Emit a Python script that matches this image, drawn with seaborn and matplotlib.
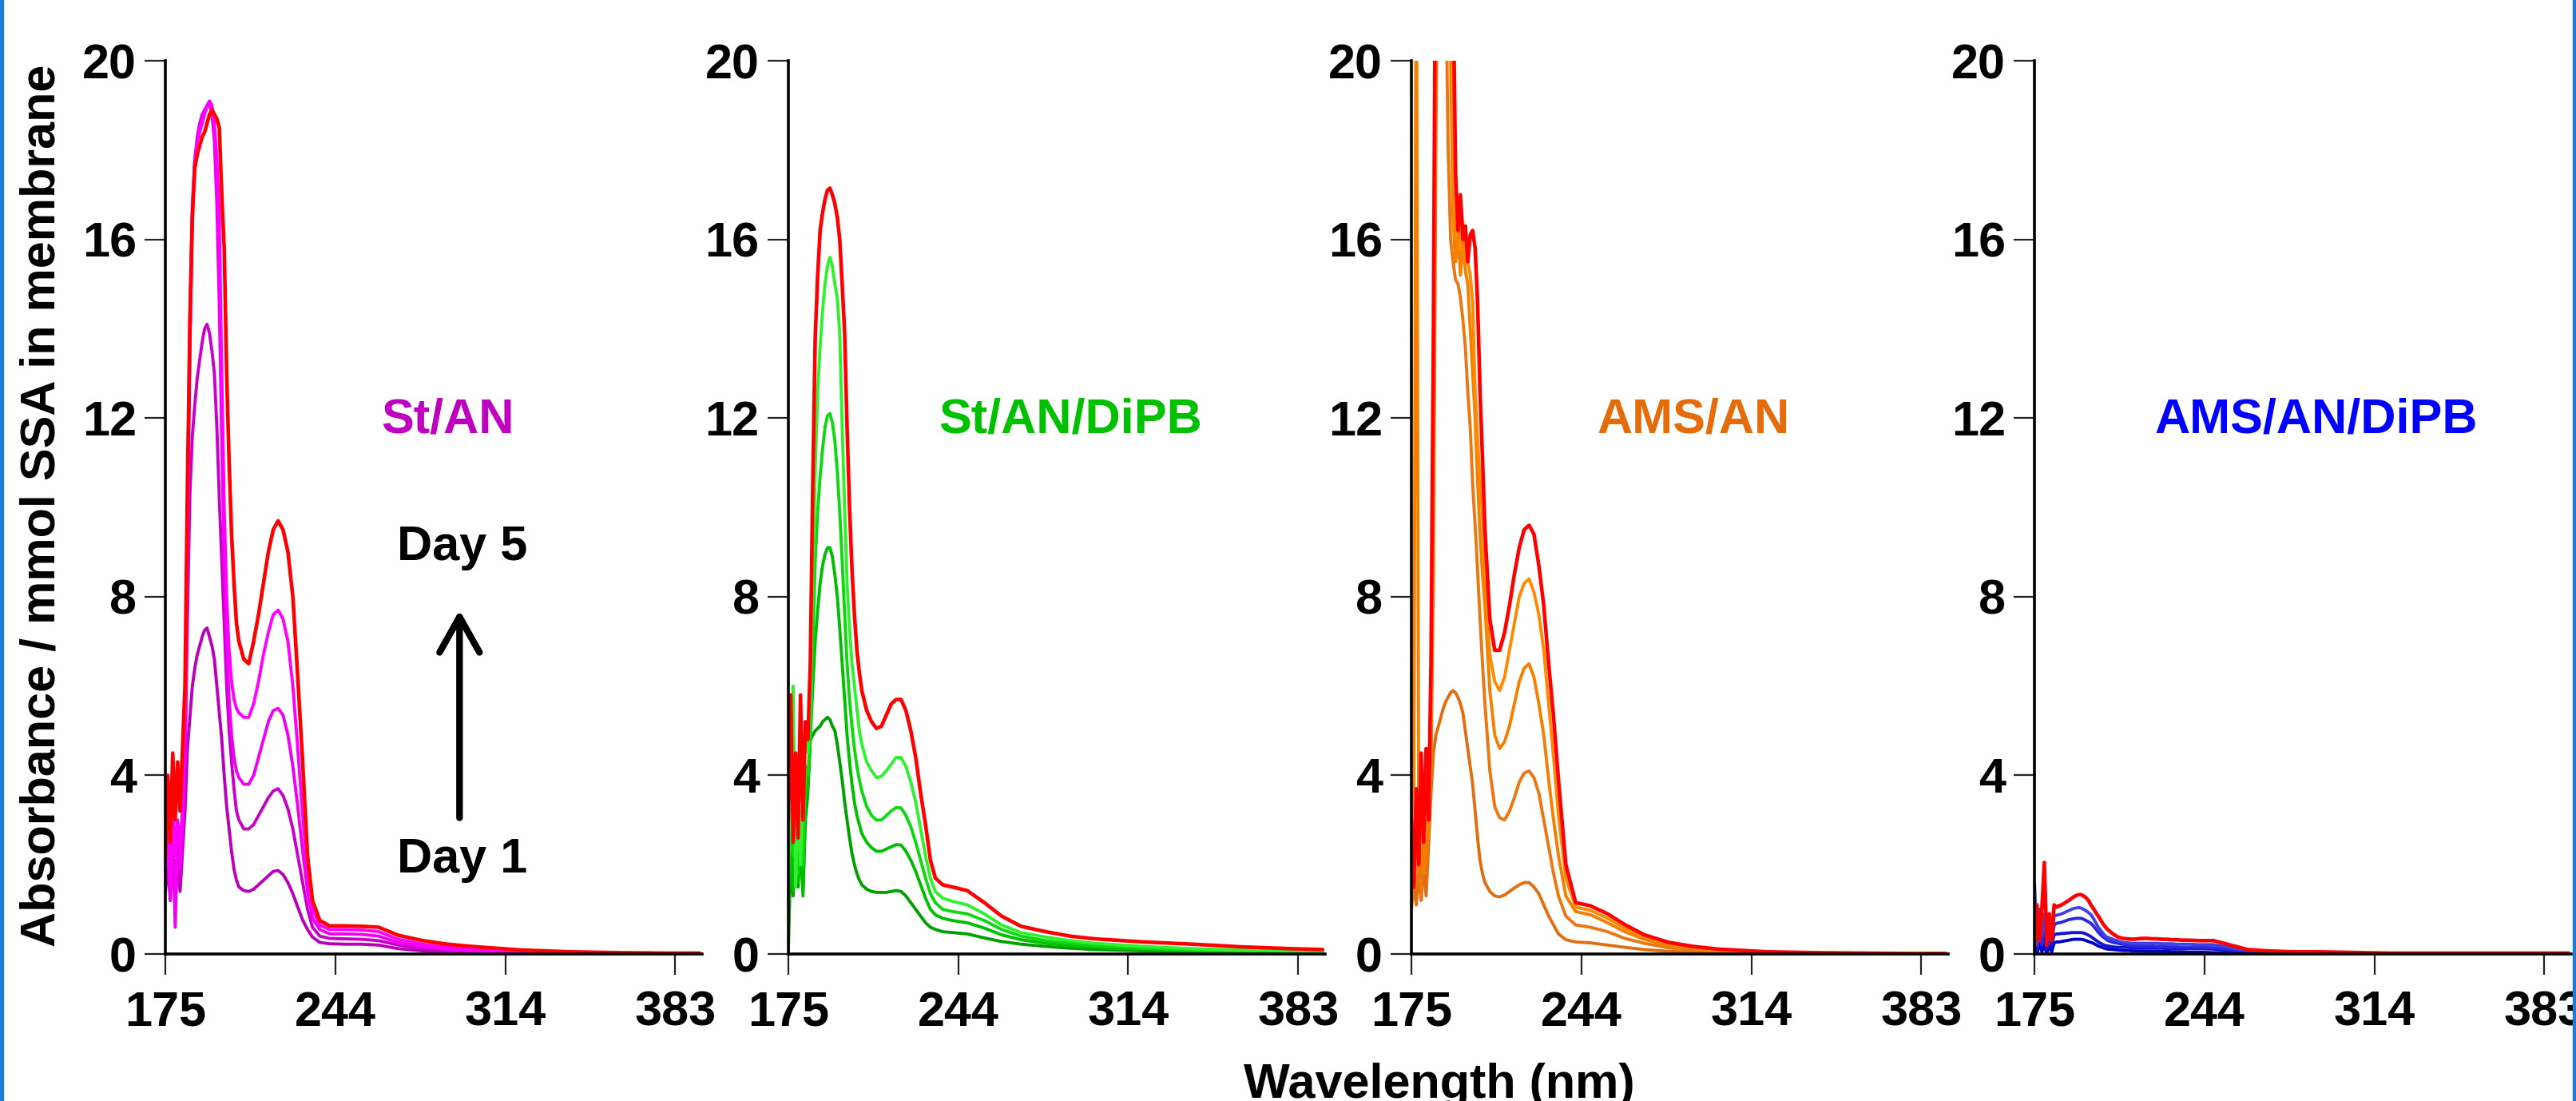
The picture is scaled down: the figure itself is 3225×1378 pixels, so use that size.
import numpy as np
import pandas as pd
import seaborn as sns
import matplotlib.pyplot as plt
from matplotlib.patches import Rectangle

# wavelength grid (nm) shared by all spectra
wl = [175, 176, 177, 178, 179, 180, 181, 182, 183, 184,
      185, 186, 187, 188, 189, 190, 191, 192, 193, 194,
      195, 196, 197, 198, 199, 200, 201, 202, 203, 204,
      205, 207, 209, 211, 213, 215, 217, 219, 221, 223,
      225, 227, 229, 231, 233, 235, 238, 242, 248, 255,
      262, 270, 280, 290, 300, 320, 340, 360, 380, 393]

# St/AN, day 1 .. day 5
st_an_d1 = [1.4, 2.0, 1.2, 2.2, 1.5, 1.9, 1.4, 2.3, 3.2, 4.6,
            5.3, 6.0, 6.4, 6.7, 6.9, 7.1, 7.25, 7.3, 7.1, 6.9,
            6.6, 6.0, 5.4, 4.8, 4.0, 3.3, 2.8, 2.3, 1.9, 1.65,
            1.5, 1.42, 1.4, 1.45, 1.55, 1.65, 1.75, 1.85, 1.87, 1.78,
            1.6, 1.35, 1.05, 0.76, 0.55, 0.38, 0.26, 0.23, 0.22, 0.22,
            0.2, 0.12, 0.07, 0.04, 0.03, 0.01, 0.01, 0.01, 0.01, 0.01]
st_an_d2 = [1.5, 2.2, 1.4, 2.4, 1.8, 2.2, 1.6, 2.6, 4.0, 7.5,
            10.3, 11.6, 12.3, 12.9, 13.3, 13.7, 14.0, 14.1, 13.9, 13.5,
            13.0, 11.8, 10.2, 8.8, 7.4, 6.0, 5.0, 4.3, 3.7, 3.2,
            3.0, 2.8, 2.8, 2.9, 3.1, 3.3, 3.5, 3.65, 3.7, 3.55,
            3.25, 2.8, 2.2, 1.6, 1.0, 0.6, 0.4, 0.35, 0.34, 0.33,
            0.3, 0.2, 0.12, 0.07, 0.05, 0.02, 0.01, 0.01, 0.01, 0.01]
st_an_d3 = [1.8, 2.6, 1.2, 2.8, 0.6, 2.5, 1.9, 2.8, 4.5, 9.0,
            13.5, 16.5, 17.8, 18.3, 18.6, 18.8, 18.9, 19.0, 19.0, 18.8,
            18.2, 16.8, 14.5, 11.5, 8.8, 6.9, 5.7, 4.9, 4.4, 4.1,
            3.95, 3.8, 3.8, 4.0, 4.4, 4.8, 5.2, 5.45, 5.5, 5.35,
            4.9, 4.2, 3.3, 2.3, 1.4, 0.8, 0.55, 0.45, 0.45, 0.44,
            0.4, 0.26, 0.17, 0.1, 0.07, 0.03, 0.02, 0.01, 0.01, 0.01]
st_an_d4 = [2.0, 3.0, 1.5, 3.5, 2.2, 3.0, 2.4, 3.3, 5.0, 10.0,
            14.5, 16.8, 17.8, 18.2, 18.4, 18.6, 18.8, 19.0, 19.1, 19.0,
            18.6, 17.8, 16.5, 13.0, 10.0, 8.0, 6.8, 6.1, 5.7, 5.5,
            5.4, 5.3, 5.3, 5.6, 6.1, 6.7, 7.2, 7.6, 7.7, 7.5,
            7.0, 6.0, 4.6, 3.1, 1.8, 1.0, 0.65, 0.55, 0.55, 0.54,
            0.5, 0.33, 0.22, 0.15, 0.1, 0.05, 0.03, 0.02, 0.01, 0.01]
st_an_d5 = [2.2, 4.0, 2.5, 4.5, 3.0, 4.3, 3.2, 4.6, 6.0, 10.5,
            14.0, 16.5, 17.6, 17.9, 18.1, 18.3, 18.4, 18.6, 18.8, 18.9,
            18.8, 18.7, 18.5, 17.0, 15.8, 13.0, 11.0, 9.4, 8.3, 7.4,
            7.0, 6.6, 6.5, 7.0, 7.6, 8.3, 9.0, 9.5, 9.7, 9.5,
            9.0, 8.0, 6.2, 4.3, 2.2, 1.2, 0.75, 0.63, 0.63, 0.62,
            0.6, 0.42, 0.3, 0.22, 0.17, 0.09, 0.05, 0.03, 0.02, 0.02]

# St/AN/DiPB
st_an_dipb_d1 = [0.0, 2.2, 1.3, 2.6, 1.5, 2.4, 1.4, 3.0, 3.6, 4.8,
                 4.9, 5.0, 5.05, 5.1, 5.2, 5.25, 5.3, 5.25, 5.1, 5.0,
                 4.7, 4.3, 3.9, 3.4, 3.0, 2.6, 2.25, 2.0, 1.8, 1.66,
                 1.55, 1.45, 1.4, 1.38, 1.38, 1.38, 1.4, 1.42, 1.4, 1.3,
                 1.15, 1.0, 0.85, 0.7, 0.6, 0.55, 0.5, 0.48, 0.45, 0.36,
                 0.28, 0.22, 0.17, 0.13, 0.1, 0.07, 0.05, 0.03, 0.02, 0.02]
st_an_dipb_d2 = [1.2, 2.5, 1.4, 3.0, 1.6, 2.8, 1.3, 3.4, 3.8, 4.8,
                 6.0, 7.0, 7.7, 8.3, 8.7, 8.95, 9.1, 9.1, 8.9, 8.5,
                 8.0, 7.3, 6.5, 5.7, 4.9, 4.3, 3.8, 3.4, 3.1, 2.9,
                 2.7, 2.5, 2.38, 2.3, 2.3, 2.35, 2.4, 2.45, 2.44, 2.3,
                 2.1, 1.85, 1.55, 1.25, 1.0, 0.88, 0.8, 0.75, 0.7, 0.58,
                 0.43, 0.32, 0.24, 0.19, 0.15, 0.1, 0.07, 0.05, 0.04, 0.04]
st_an_dipb_d3 = [1.5, 3.0, 2.2, 4.0, 1.8, 3.2, 2.0, 4.2, 4.0, 5.0,
                 7.0, 8.8, 9.9, 10.7, 11.3, 11.8, 12.05, 12.1, 11.9, 11.5,
                 10.8, 9.9, 8.8, 7.6, 6.5, 5.7, 5.1, 4.6, 4.2, 3.9,
                 3.65, 3.3, 3.1, 3.0, 3.0, 3.1, 3.2, 3.28, 3.27, 3.1,
                 2.85, 2.5, 2.1, 1.7, 1.35, 1.15, 1.0, 0.95, 0.9, 0.75,
                 0.55, 0.4, 0.3, 0.24, 0.19, 0.13, 0.09, 0.07, 0.05, 0.05]
st_an_dipb_d4 = [2.0, 4.0, 6.0, 1.5, 3.5, 2.0, 3.8, 5.2, 4.5, 5.6,
                 8.5, 10.8, 12.6, 13.6, 14.4, 15.0, 15.4, 15.6, 15.4, 15.0,
                 14.7, 13.9, 11.8, 10.0, 8.3, 7.3, 6.5, 6.0, 5.5, 5.0,
                 4.7, 4.3, 4.1, 3.95, 3.98, 4.1, 4.25, 4.4, 4.4, 4.2,
                 3.85, 3.4, 2.8, 2.2, 1.7, 1.4, 1.25, 1.18, 1.1, 0.9,
                 0.65, 0.48, 0.38, 0.3, 0.24, 0.17, 0.12, 0.09, 0.07, 0.06]
st_an_dipb_d5 = [3.0, 5.8, 2.5, 4.5, 2.6, 5.8, 3.0, 5.2, 4.8, 6.5,
                 10.5, 13.8, 15.2, 16.2, 16.6, 16.9, 17.1, 17.15, 17.0, 16.8,
                 16.5, 16.0, 15.0, 13.9, 11.8, 10.0, 8.6, 7.6, 6.8, 6.3,
                 5.9, 5.45, 5.2, 5.05, 5.1, 5.35, 5.6, 5.7, 5.7, 5.45,
                 5.0, 4.4, 3.6, 2.9, 2.1, 1.7, 1.55, 1.5, 1.42, 1.15,
                 0.85, 0.62, 0.5, 0.4, 0.34, 0.27, 0.22, 0.16, 0.12, 0.1]

# AMS/AN (values above 20 run off the top of the axis)
ams_an_d1 = [1.0, 1.6, 1.1, 1.8, 1.2, 2.0, 1.3, 2.4, 3.6, 4.5,
             4.9, 5.1, 5.3, 5.5, 5.65, 5.75, 5.85, 5.9, 5.85, 5.75,
             5.6, 5.4, 5.0, 4.6, 4.2, 3.8, 3.2, 2.6, 2.1, 1.8,
             1.6, 1.4, 1.3, 1.28, 1.32, 1.4, 1.48, 1.55, 1.6, 1.6,
             1.5, 1.35, 1.1, 0.85, 0.65, 0.45, 0.32, 0.27, 0.25, 0.2,
             0.15, 0.1, 0.06, 0.04, 0.03, 0.01, 0.01, 0.01, 0.01, 0.01]
ams_an_d2 = [1.2, 2.2, 1.5, 2.6, 1.3, 2.9, 1.8, 3.0, 4.2, 8.5,
             18.0, 25.0, 25.0, 25.0, 22.0, 18.0, 16.0, 15.5, 15.1, 15.0,
             14.7, 14.2, 13.6, 12.6, 11.8, 10.5, 9.6, 8.6, 7.5, 6.5,
             5.6, 4.1, 3.3, 3.05, 3.0, 3.2, 3.5, 3.85, 4.05, 4.1,
             3.95, 3.6, 3.0, 2.4, 1.8, 1.3, 0.85, 0.65, 0.6, 0.5,
             0.35, 0.24, 0.14, 0.09, 0.06, 0.02, 0.01, 0.01, 0.01, 0.01]
ams_an_d3 = [1.5, 2.8, 25.0, 2.2, 3.2, 1.8, 3.4, 2.6, 4.8, 10.0,
             22.0, 25.0, 25.0, 25.0, 25.0, 24.0, 20.0, 16.5, 15.5, 16.1,
             15.2, 16.0, 15.3, 15.0, 14.0, 13.0, 12.0, 10.6, 9.4, 8.5,
             7.8, 5.9, 4.9, 4.6, 4.75, 5.1, 5.6, 6.1, 6.4, 6.5,
             6.2, 5.6, 4.9, 3.9, 3.0, 2.2, 1.3, 0.95, 0.88, 0.7,
             0.5, 0.33, 0.19, 0.12, 0.08, 0.03, 0.02, 0.01, 0.01, 0.01]
ams_an_d4 = [2.5, 3.2, 1.8, 3.5, 2.4, 3.8, 2.6, 4.0, 5.5, 12.0,
             25.0, 25.0, 25.0, 25.0, 25.0, 25.0, 24.0, 18.0, 16.0, 16.5,
             15.8, 16.4, 15.6, 15.5, 15.2, 14.6, 12.6, 11.5, 10.6, 9.8,
             8.6, 6.7, 6.1, 5.9, 6.2, 6.8, 7.4, 8.0, 8.3, 8.4,
             8.1, 7.6, 6.8, 5.6, 4.4, 3.1, 1.7, 1.05, 0.98, 0.8,
             0.58, 0.38, 0.22, 0.14, 0.09, 0.04, 0.02, 0.01, 0.01, 0.01]
ams_an_d5 = [3.0, 1.5, 3.7, 2.0, 4.5, 2.5, 4.6, 3.0, 6.5, 14.0,
             25.0, 25.0, 25.0, 25.0, 25.0, 25.0, 25.0, 22.0, 17.5, 16.2,
             17.0, 16.0, 16.3, 15.5, 16.1, 16.2, 15.8, 14.6, 12.6, 11.1,
             9.5, 7.5, 6.8, 6.8, 7.2, 7.8, 8.5, 9.1, 9.5, 9.6,
             9.4, 8.7, 7.8, 6.5, 5.3, 3.9, 2.0, 1.15, 1.08, 0.9,
             0.66, 0.43, 0.26, 0.17, 0.11, 0.05, 0.03, 0.02, 0.01, 0.01]

# AMS/AN/DiPB
ams_an_dipb_d1 = [0.3, 0.0, 0.25, 0.05, 0.2, 0.0, 0.2, 0.05, 0.25, 0.27,
                  0.27, 0.28, 0.29, 0.3, 0.31, 0.32, 0.33, 0.33, 0.33, 0.33,
                  0.32, 0.3, 0.28, 0.26, 0.24, 0.21, 0.18, 0.16, 0.14, 0.12,
                  0.11, 0.1, 0.09, 0.08, 0.08, 0.07, 0.07, 0.07, 0.06, 0.06,
                  0.06, 0.06, 0.06, 0.05, 0.05, 0.05, 0.04, 0.04, 0.03, 0.03,
                  0.02, 0.02, 0.01, 0.01, 0.01, 0.01, 0.01, 0.01, 0.01, 0.01]
ams_an_dipb_d2 = [0.6, 0.1, 0.5, 0.2, 0.4, 0.1, 0.45, 0.2, 0.43, 0.45,
                  0.45, 0.46, 0.46, 0.47, 0.47, 0.48, 0.48, 0.48, 0.48, 0.48,
                  0.47, 0.45, 0.42, 0.39, 0.35, 0.31, 0.27, 0.24, 0.21, 0.19,
                  0.18, 0.16, 0.15, 0.15, 0.15, 0.14, 0.14, 0.14, 0.13, 0.13,
                  0.13, 0.13, 0.12, 0.12, 0.12, 0.12, 0.12, 0.12, 0.11, 0.08,
                  0.05, 0.04, 0.03, 0.02, 0.01, 0.01, 0.01, 0.01, 0.01, 0.01]
ams_an_dipb_d3 = [0.9, 0.3, 0.7, 0.2, 0.6, 0.4, 0.7, 0.3, 0.65, 0.69,
                  0.7, 0.71, 0.73, 0.75, 0.77, 0.78, 0.79, 0.8, 0.8, 0.8,
                  0.78, 0.75, 0.72, 0.69, 0.63, 0.56, 0.49, 0.43, 0.38, 0.34,
                  0.3, 0.26, 0.24, 0.22, 0.2, 0.19, 0.18, 0.18, 0.18, 0.18,
                  0.17, 0.17, 0.16, 0.16, 0.16, 0.15, 0.15, 0.15, 0.14, 0.1,
                  0.06, 0.04, 0.03, 0.02, 0.01, 0.01, 0.01, 0.01, 0.01, 0.01]
ams_an_dipb_d4 = [1.6, 0.2, 1.0, 0.4, 0.9, 0.3, 0.8, 0.5, 0.85, 0.87,
                  0.88, 0.9, 0.92, 0.95, 0.97, 1.0, 1.02, 1.03, 1.04, 1.03,
                  1.0, 0.97, 0.93, 0.88, 0.8, 0.7, 0.6, 0.53, 0.46, 0.4,
                  0.37, 0.33, 0.29, 0.26, 0.25, 0.24, 0.24, 0.24, 0.24, 0.24,
                  0.24, 0.23, 0.23, 0.23, 0.22, 0.22, 0.22, 0.21, 0.21, 0.14,
                  0.08, 0.05, 0.04, 0.03, 0.02, 0.01, 0.01, 0.01, 0.01, 0.01]
ams_an_dipb_d5 = [0.2, 1.1, 0.3, 1.0, 2.05, 0.2, 0.9, 0.3, 1.1, 1.05,
                  1.08, 1.1, 1.13, 1.17, 1.2, 1.24, 1.28, 1.31, 1.33, 1.33,
                  1.3, 1.26, 1.2, 1.1, 1.02, 0.93, 0.85, 0.76, 0.67, 0.6,
                  0.54, 0.45, 0.38, 0.35, 0.34, 0.33, 0.34, 0.35, 0.35, 0.34,
                  0.34, 0.33, 0.33, 0.32, 0.32, 0.31, 0.31, 0.3, 0.3, 0.2,
                  0.1, 0.07, 0.05, 0.05, 0.04, 0.02, 0.02, 0.02, 0.02, 0.02]

days = ["Day 1", "Day 2", "Day 3", "Day 4", "Day 5"]
x_ticks = [175, 244.33, 313.67, 383]
x_tick_labels = ["175", "244", "314", "383"]
y_ticks = [0, 4, 8, 12, 16, 20]

panels = [
    ("St/AN", "#C000C0",
     [st_an_d1, st_an_d2, st_an_d3, st_an_d4, st_an_d5],
     ["#B800B8", "#C800C8", "#F000F0", "#FF00FF", "#FF0000"]),
    ("St/AN/DiPB", "#00C000",
     [st_an_dipb_d1, st_an_dipb_d2, st_an_dipb_d3, st_an_dipb_d4, st_an_dipb_d5],
     ["#00A000", "#00BE00", "#10D810", "#30F030", "#FF0000"]),
    ("AMS/AN", "#E46C0A",
     [ams_an_d1, ams_an_d2, ams_an_d3, ams_an_d4, ams_an_d5],
     ["#E06E10", "#EC7612", "#F58000", "#FF8A00", "#FF0000"]),
    ("AMS/AN/DiPB", "#0000FF",
     [ams_an_dipb_d1, ams_an_dipb_d2, ams_an_dipb_d3, ams_an_dipb_d4, ams_an_dipb_d5],
     ["#0000C8", "#1414D2", "#2A2ADC", "#4040E6", "#FF0000"]),
]

sns.set_style("ticks")
plt.rcParams["font.family"] = ["Liberation Sans", "DejaVu Sans"]
plt.rcParams["font.weight"] = "bold"
plt.rcParams["text.color"] = "black"
plt.rcParams["xtick.labelcolor"] = "black"
plt.rcParams["ytick.labelcolor"] = "black"

fs = 44
fig = plt.figure(figsize=(32.25, 13.78), dpi=100)
lefts = [0.0642, 0.3060, 0.5479, 0.7898]

for left, (name, colour, curves, palette) in zip(lefts, panels):
    ax = fig.add_axes([left, 0.1335, 0.2084, 0.8113])
    df = pd.concat([pd.DataFrame({"wavelength": wl, "absorbance": c, "day": d})
                    for c, d in zip(curves, days)])
    sns.lineplot(data=df, x="wavelength", y="absorbance", hue="day",
                 palette=palette, estimator=None, sort=False,
                 linewidth=2.8, legend=False, ax=ax)
    ax.lines[-1].set_linewidth(3.3)

    ax.set_xlim(175, 394)
    ax.set_ylim(0, 20)
    ax.set_xticks(x_ticks)
    ax.set_xticklabels(x_tick_labels)
    ax.set_yticks(y_ticks)
    ax.set(xlabel="", ylabel="")
    ax.tick_params(axis="both", length=19, width=1.6, color="#222222",
                   labelsize=fs, labelcolor="black")
    ax.tick_params(axis="x", pad=14)
    ax.tick_params(axis="y", pad=7)
    sns.despine(ax=ax)
    for s in ["left", "bottom"]:
        ax.spines[s].set_linewidth(2.6)
        ax.spines[s].set_color("black")

    ax.text(290, 11.95, name, color=colour, fontsize=fs, fontweight="bold",
            ha="center", va="center")

    if name == "St/AN":
        ax.text(296, 9.1, "Day 5", fontsize=fs, ha="center", va="center")
        ax.text(296, 2.1, "Day 1", fontsize=fs, ha="center", va="center")
        ax.annotate("", xy=(295, 7.75), xytext=(295, 3.0),
                    arrowprops=dict(arrowstyle="->,head_length=0.8,head_width=0.45",
                                    lw=6, color="black", mutation_scale=40))

fig.text(0.0165, 0.541, "Absorbance / mmol SSA in membrane", rotation=90,
         fontsize=fs, ha="center", va="center")
fig.text(0.5587, 0.003, "Wavelength (nm)", fontsize=fs, ha="center",
         va="baseline")

fig.add_artist(Rectangle((0, 0), 0.0012, 1, transform=fig.transFigure,
                         color="#1E7CD6"))
fig.add_artist(Rectangle((0.9988, 0), 0.0012, 1, transform=fig.transFigure,
                         color="#1E7CD6"))

fig.savefig("out.png", dpi=100)
